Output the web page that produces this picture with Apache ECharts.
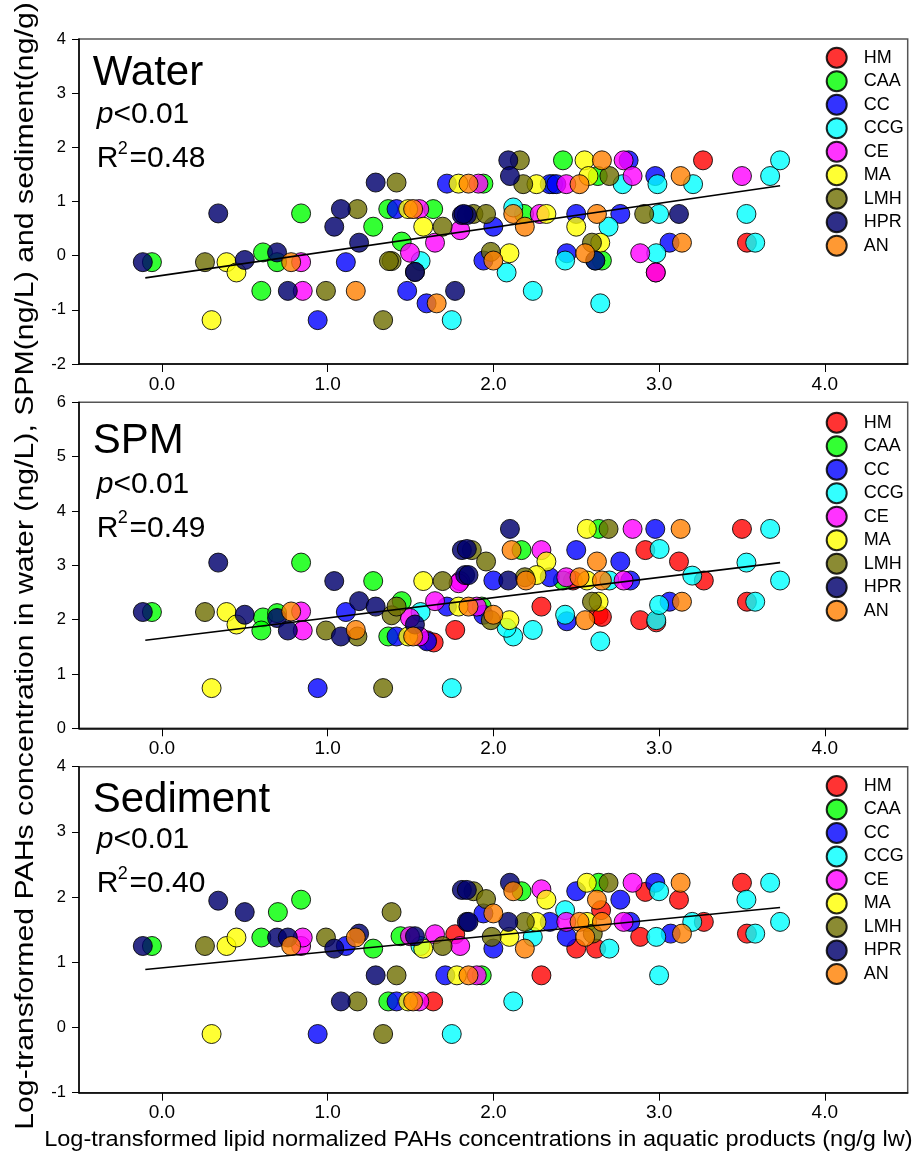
<!DOCTYPE html>
<html><head><meta charset="utf-8">
<script src="https://cdn.jsdelivr.net/npm/echarts@6/dist/echarts.min.js"></script>
<style>html,body{margin:0;padding:0;background:#fff}#c{width:919px;height:1154px}</style>
</head><body><div id="c"></div>
<script>
const groups = ['HM','CAA','CC','CCG','CE','MA','LMH','HPR','AN'];
const groupColors = ['rgba(255,0,0,0.8)','rgba(0,255,0,0.8)','rgba(0,0,255,0.8)','rgba(0,255,255,0.8)','rgba(255,0,255,0.8)','rgba(255,255,0,0.8)','rgba(110,110,0,0.8)','rgba(0,0,110,0.82)','rgba(255,128,0,0.8)'];
const xTicks = [0,1,2,3,4];

// ---------- Water panel ----------
const water_HM  = [[3.265,1.76],[3.53,0.24],[2.98,-0.31]];
const water_CAA = [[-0.06,-0.12],[0.61,0.06],[0.60,-0.65],[0.695,-0.12],[0.84,0.78],[1.275,0.535],[1.366,0.86],[1.637,0.86],[1.447,0.26],[1.94,1.33],[2.42,1.76],[2.63,1.47],[2.185,0.77],[2.655,-0.09],[2.36,1.32]];
const water_CC  = [[0.94,-1.19],[1.11,-0.12],[1.416,0.86],[1.48,-0.65],[1.597,-0.88],[1.72,1.33],[2.0,0.535],[1.94,-0.09],[2.34,1.32],[2.38,1.32],[2.50,0.77],[2.766,0.77],[2.816,1.76],[2.977,1.47],[3.063,0.24],[2.443,0.045]];
const water_CCG = [[1.561,-0.1],[1.749,-1.19],[2.12,0.89],[2.78,1.32],[2.99,1.32],[3.205,1.32],[3.67,1.47],[3.73,1.76],[3.00,0.77],[3.527,0.77],[2.695,0.535],[3.58,0.24],[2.983,0.045],[2.433,-0.09],[2.08,-0.31],[2.238,-0.65],[2.645,-0.88],[2.615,-0.09]];
const water_CE  = [[0.84,-0.12],[0.85,-0.65],[1.553,0.86],[1.497,0.055],[1.648,0.24],[1.80,0.47],[1.91,1.33],[2.44,1.32],[2.786,1.76],[2.84,1.47],[2.28,0.77],[2.886,0.045],[2.98,-0.31],[3.50,1.47]];
const water_MA  = [[0.30,-1.19],[0.39,-0.12],[0.45,-0.31],[1.486,0.86],[1.577,0.535],[1.79,1.33],[2.26,1.32],[2.55,1.76],[2.574,1.47],[2.32,0.77],[2.50,0.535],[2.097,0.045],[2.645,0.24]];
const water_LMH = [[0.26,-0.12],[0.99,-0.65],[1.18,0.86],[1.335,-1.19],[1.386,-0.1],[1.37,-0.1],[1.416,1.35],[1.694,0.535],[1.527,-0.3],[1.88,0.77],[1.956,0.77],[2.16,1.76],[2.70,1.47],[2.18,1.32],[2.91,0.77],[1.985,0.07],[2.595,0.24]];
const water_HPR = [[-0.115,-0.12],[0.34,0.78],[0.50,-0.08],[0.695,0.06],[0.76,-0.65],[1.08,0.86],[1.04,0.535],[1.19,0.24],[1.29,1.35],[1.527,-0.3],[1.769,-0.65],[1.81,0.75],[1.84,0.75],[2.09,1.76],[2.10,1.47],[1.82,0.77],[3.12,0.77],[2.615,-0.09]];
const water_AN  = [[0.78,-0.12],[1.17,-0.65],[1.516,0.86],[1.658,-0.88],[1.85,1.33],[2.655,1.76],[2.52,1.32],[3.13,1.47],[2.12,0.77],[2.625,0.77],[2.19,0.535],[3.138,0.24],[2.554,0.045],[2.0,-0.09]];
const water_fit = [[-0.1,-0.41],[3.73,1.29]];

// ---------- SPM panel ----------
const spm_HM  = [[1.77,1.81],[1.60,1.62],[1.64,1.58],[2.29,2.24],[2.635,2.09],[2.655,2.05],[2.886,1.99],[2.983,1.95],[2.917,3.28],[3.12,3.07],[3.27,2.72],[3.50,3.67],[3.53,2.33],[2.48,2.72]];
const spm_CAA = [[-0.06,2.14],[0.84,3.05],[0.61,2.04],[0.60,1.80],[0.695,2.12],[1.275,2.71],[1.447,2.34],[1.366,1.69],[1.93,2.24],[2.17,3.28],[2.635,3.67],[2.42,2.72]];
const spm_CC  = [[0.94,0.74],[1.11,2.14],[1.416,1.69],[1.60,1.60],[1.72,2.24],[2.0,2.72],[1.94,2.09],[2.34,2.78],[2.50,3.28],[2.766,3.07],[2.977,3.67],[2.826,2.72],[2.443,1.97],[3.063,2.33]];
const spm_CCG = [[1.561,2.14],[1.749,0.74],[2.12,1.69],[2.238,1.81],[2.645,1.60],[2.433,2.09],[2.983,1.99],[3.0,2.27],[3.003,3.30],[3.2,2.81],[3.527,3.05],[3.58,2.33],[3.67,3.67],[3.73,2.72],[2.70,2.72],[2.08,1.85]];
const spm_CE  = [[0.84,2.15],[0.85,1.80],[1.553,1.69],[1.497,2.03],[1.648,2.34],[1.80,2.71],[1.79,2.67],[2.29,3.28],[2.84,3.67],[2.786,2.72],[2.44,2.78],[1.90,2.24]];
const spm_MA  = [[0.30,0.74],[0.39,2.14],[0.45,1.91],[1.486,1.69],[1.577,2.71],[1.79,2.24],[2.564,3.67],[2.32,3.07],[2.26,2.82],[2.565,2.72],[2.097,1.99],[2.635,2.33]];
const spm_LMH = [[0.26,2.14],[0.99,1.80],[1.18,1.69],[1.335,0.74],[1.386,2.08],[1.416,2.24],[1.694,2.71],[1.87,3.28],[1.956,3.07],[2.695,3.67],[1.985,1.99],[2.595,2.33],[2.19,2.78]];
const spm_HPR = [[-0.115,2.14],[0.34,3.05],[0.50,2.09],[0.695,2.03],[0.76,1.80],[1.04,2.71],[1.08,1.69],[1.19,2.34],[1.29,2.24],[1.527,1.91],[1.83,2.82],[1.81,3.28],[1.84,3.30],[2.10,3.67],[2.09,2.72],[1.85,2.82]];
const spm_AN  = [[0.78,2.15],[1.17,1.81],[1.516,1.69],[1.85,2.24],[2.11,3.28],[2.625,3.07],[3.13,3.67],[2.197,2.72],[2.52,2.78],[2.655,2.72],[3.138,2.33],[2.0,2.09],[2.554,1.99]];
const spm_fit = [[-0.1,1.62],[3.73,3.05]];

// ---------- Sediment panel ----------
const sed_HM  = [[1.637,0.40],[1.77,1.43],[2.29,0.80],[2.917,2.08],[3.12,1.96],[3.27,1.62],[3.50,2.22],[3.53,1.44],[2.50,1.21],[2.62,1.21],[2.886,1.39],[2.65,1.80]];
const sed_CAA = [[-0.06,1.25],[0.60,1.38],[0.70,1.77],[0.84,1.96],[1.275,1.21],[1.366,0.40],[1.44,1.40],[1.93,0.80],[2.17,2.09],[2.635,2.22]];
const sed_CC  = [[0.94,-0.10],[1.11,1.25],[1.416,0.40],[1.71,0.80],[1.94,1.75],[2.0,1.21],[2.34,1.62],[2.443,1.39],[2.50,2.09],[2.766,1.96],[2.826,1.62],[2.977,2.22],[3.07,1.44]];
const sed_CCG = [[1.749,-0.10],[2.12,0.40],[3.0,0.80],[2.238,1.39],[2.433,1.80],[2.70,1.21],[2.983,1.39],[3.0,2.09],[3.2,1.62],[3.527,1.96],[3.58,1.44],[3.67,2.22],[3.73,1.62],[1.56,1.25]];
const sed_CE  = [[0.84,1.25],[0.85,1.38],[1.497,1.40],[1.553,0.40],[1.648,1.43],[1.80,1.25],[1.90,0.80],[2.29,2.12],[2.44,1.62],[2.786,1.62],[2.84,2.22]];
const sed_MA  = [[0.30,-0.10],[0.39,1.25],[0.45,1.38],[1.486,0.40],[1.577,1.21],[1.78,0.80],[2.097,1.39],[2.26,1.62],[2.32,1.96],[2.564,2.22],[2.565,1.62]];
const sed_LMH = [[0.26,1.25],[0.99,1.38],[1.18,0.40],[1.335,-0.10],[1.386,1.77],[1.416,0.80],[1.694,1.25],[1.88,2.09],[1.956,1.97],[1.99,1.39],[2.19,1.62],[2.695,2.22],[2.60,1.44]];
const sed_HPR = [[-0.115,1.25],[0.34,1.945],[0.50,1.77],[0.695,1.38],[0.76,1.38],[1.04,1.21],[1.08,0.40],[1.29,0.80],[1.19,1.44],[1.527,1.40],[1.81,2.11],[1.84,2.11],[1.84,1.62],[2.10,2.22],[2.09,1.62],[1.85,1.62]];
const sed_AN  = [[0.78,1.25],[1.17,1.38],[1.516,0.40],[1.85,0.80],[2.0,1.75],[2.12,2.09],[2.19,1.21],[2.52,1.62],[2.625,1.96],[2.655,1.62],[3.13,2.22],[2.554,1.39],[3.138,1.44]];
const sed_fit = [[-0.1,0.89],[3.73,1.84]];

const panelTitles = ['Water','SPM','Sediment'];
const panelR2 = ['0.48','0.49','0.40'];
const panelP = ['<0.01','<0.01','<0.01'];
const yRanges = [[-2,4],[0,6],[-1,4]];

const panelData = [
  [water_HM,water_CAA,water_CC,water_CCG,water_CE,water_MA,water_LMH,water_HPR,water_AN],
  [spm_HM,spm_CAA,spm_CC,spm_CCG,spm_CE,spm_MA,spm_LMH,spm_HPR,spm_AN],
  [sed_HM,sed_CAA,sed_CC,sed_CCG,sed_CE,sed_MA,sed_LMH,sed_HPR,sed_AN]
];
const panelFits = [water_fit, spm_fit, sed_fit];

// ---------- layout ----------
const FONT = '"Liberation Sans", Arial, sans-serif';
const gridTops = [39, 402.3, 766.7];
const gridHeights = [325, 326, 326];
const legendTops = [41.7, 406.7, 770];
const titleY = [[73.4,115,159],[441,484.4,528.4],[800.4,840,884]];

const grids = [], xAxes = [], yAxes = [], series = [], legends = [], graphics = [];
for (let p = 0; p < 3; p++) {
  grids.push({left:79, right:11.3, top:gridTops[p], height:gridHeights[p], show:true,
    borderColor:'#555', borderWidth:1.5, backgroundColor:'transparent'});
  xAxes.push({type:'value', gridIndex:p, min:-0.5, max:4.5,
    axisLine:{show:true, onZero:false, lineStyle:{color:'#000', width:1.5}},
    axisTick:{show:true, customValues:xTicks, length:8, lineStyle:{color:'#000', width:1}},
    axisLabel:{customValues:xTicks, formatter:v=>Number(v).toFixed(1), fontSize:19, color:'#000', fontFamily:FONT, margin:11},
    splitLine:{show:false}});
  yAxes.push({type:'value', gridIndex:p, min:yRanges[p][0], max:yRanges[p][1], interval:1,
    axisLine:{show:true, onZero:false, lineStyle:{color:'#000', width:1.5}},
    axisTick:{show:true, length:7, lineStyle:{color:'#000', width:1}},
    axisLabel:{fontSize:16.5, color:'#000', fontFamily:FONT, margin:13},
    splitLine:{show:false}});
  groups.forEach((g, i) => {
    series.push({type:'scatter', name:g, xAxisIndex:p, yAxisIndex:p, data:panelData[p][i],
      symbol:'circle', symbolSize:19,
      itemStyle:{color:groupColors[i], borderColor:'rgba(0,0,0,0.85)', borderWidth:1, opacity:1},
      emphasis:{disabled:true}});
  });
  series.push({type:'line', xAxisIndex:p, yAxisIndex:p, data:panelFits[p], showSymbol:false, symbol:'none',
    lineStyle:{color:'#000', width:1.6}, z:5, silent:true});
  legends.push({data:groups, orient:'vertical', left:820.7, top:legendTops[p], icon:'circle',
    itemWidth:20, itemHeight:20, itemGap:1.5, selectedMode:false,
    textStyle:{fontSize:18, color:'#000', fontFamily:FONT, lineHeight:20, padding:[0,0,0,12]}});
  graphics.push({type:'text', x:92.7, y:titleY[p][0], style:{text:panelTitles[p], fontSize:42, fontFamily:FONT, fill:'#000', verticalAlign:'middle'}});
  graphics.push({type:'text', x:96.7, y:titleY[p][1], style:{text:'{i|p}{n|' + panelP[p] + '}', verticalAlign:'middle', fill:'#000',
    rich:{i:{fontStyle:'italic', fontSize:30, fontFamily:FONT, fill:'#000'}, n:{fontSize:30, fontFamily:FONT, fill:'#000'}}}});
  graphics.push({type:'text', x:96.7, y:titleY[p][2], style:{text:'R', fontSize:30, fontFamily:FONT, fill:'#000', verticalAlign:'middle'}});
  graphics.push({type:'text', x:117.8, y:titleY[p][2]-10, style:{text:'2', fontSize:18, fontFamily:FONT, fill:'#000', verticalAlign:'middle'}});
  graphics.push({type:'text', x:129.5, y:titleY[p][2], style:{text:'=' + panelR2[p], fontSize:30, fontFamily:FONT, fill:'#000', verticalAlign:'middle'}});
}
graphics.push({type:'text', x:26, y:566, rotation:Math.PI/2, scaleX:1.21,
  style:{text:'Log-transformed PAHs concentration in water (ng/L), SPM(ng/L) and sediment(ng/g)', fontSize:25, fontFamily:FONT, fill:'#000', align:'center', verticalAlign:'middle'}});
graphics.push({type:'text', x:478.3, y:1139.5, scaleX:1.07,
  style:{text:'Log-transformed lipid normalized PAHs concentrations in aquatic products (ng/g lw)', fontSize:22, fontFamily:FONT, fill:'#000', align:'center', verticalAlign:'middle'}});

const chart = echarts.init(document.getElementById('c'), null, {renderer:'canvas'});
chart.setOption({animation:false, backgroundColor:'#fff', grid:grids, xAxis:xAxes, yAxis:yAxes, series, legend:legends, graphic:graphics});
</script></body></html>
